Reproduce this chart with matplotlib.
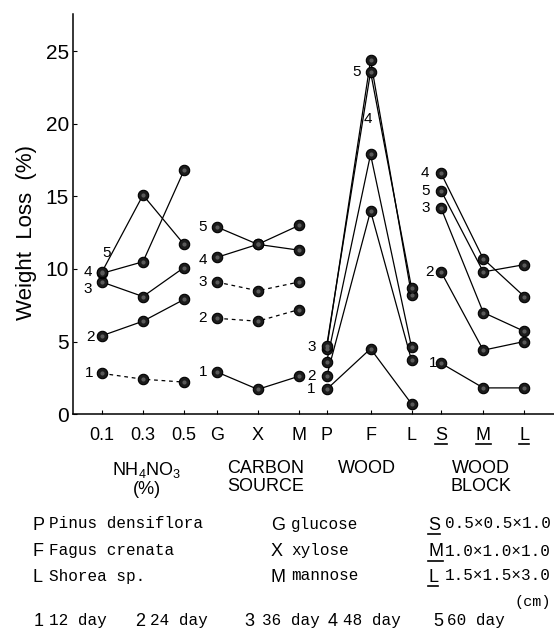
import matplotlib
matplotlib.use('Agg')
import matplotlib.pyplot as plt
from matplotlib import font_manager
from matplotlib.lines import Line2D

# x categories of the four groups
nh_cats = ['0.1', '0.3', '0.5']
carbon_cats = ['G', 'X', 'M']
wood_cats = ['P', 'F', 'L']
block_cats = ['S', 'M', 'L']
group_titles = ['NH$_\\mathregular{4}$NO$_\\mathregular{3}$\n(%)', 'CARBON\nSOURCE', 'WOOD', 'WOOD\nBLOCK']

days = ['1', '2', '3', '4', '5']

# weight loss (%), one row per period: 12, 24, 36, 48, 60 day
nh_loss = [[2.8, 2.4, 2.2],
           [5.4, 6.4, 7.9],
           [9.1, 8.1, 10.1],
           [9.7, 10.5, 16.8],
           [9.8, 15.1, 11.7]]
carbon_loss = [[2.9, 1.7, 2.6],
               [6.6, 6.4, 7.2],
               [9.1, 8.5, 9.1],
               [10.8, 11.7, 13.0],
               [12.9, 11.7, 11.3]]
wood_loss = [[1.7, 4.5, 0.7],
             [2.6, 14.0, 3.7],
             [3.6, 17.9, 4.6],
             [4.5, 24.4, 8.2],
             [4.7, 23.6, 8.7]]
block_loss = [[3.5, 1.8, 1.8],
              [9.8, 4.4, 5.0],
              [14.2, 7.0, 5.7],
              [16.6, 10.7, 8.1],
              [15.4, 9.8, 10.3]]

# legend texts
wood_names = ['Pinus densiflora', 'Fagus crenata', 'Shorea sp.']
sugar_names = ['glucose', 'xylose', 'mannose']
block_sizes = ['0.5×0.5×1.0', '1.0×1.0×1.0', '1.5×1.5×3.0']
day_names = ['12 day', '24 day', '36 day', '48 day', '60 day']

# ---- layout ----
W, H = 554, 629
nh_pos = [0, 1, 2]
carbon_pos = [2.8, 3.8, 4.8]
wood_pos = [5.48, 6.55, 7.55]
block_pos = [8.27, 9.3, 10.3]


def pick(name, fallback):
    try:
        font_manager.findfont(name, fallback_to_default=False)
        return name
    except Exception:
        return fallback


SANS = pick('Liberation Sans', 'DejaVu Sans')
NARROW = pick('Liberation Sans Narrow', SANS)
MONO = pick('Liberation Mono', 'DejaVu Sans Mono')
plt.rcParams['font.family'] = SANS
plt.rcParams['mathtext.fontset'] = 'custom'
plt.rcParams['mathtext.rm'] = SANS

fig = plt.figure(figsize=(W / 100, H / 100), dpi=100)
ax = fig.add_axes([73 / W, 1 - 414 / H, (W - 73) / W, 400 / H])


def fx(px):
    return px / W


def fy(py):
    return 1 - py / H


def draw_group(pos, loss, dashed, offsets):
    for i, vals in enumerate(loss):
        ls = (0, (3, 3)) if i in dashed else '-'
        ax.plot(pos, vals, linestyle=ls, color='black', lw=0.9, marker='o', ms=7.5,
                mfc='#1c1c1c', mec='black', mew=0.8, clip_on=False, zorder=3)
        ax.plot(pos, vals, 'o', ms=2, color='#5a5a5a', ls='none', clip_on=False, zorder=4)
        k, dx, dy = offsets[i]
        ax.annotate(days[i], xy=(pos[k], vals[k]), xytext=(dx, dy), textcoords='offset points',
                    ha='center', va='center', fontsize=11, family=SANS)


draw_group(nh_pos, nh_loss, [0],
           [(0, -9, 0), (0, -8, -1), (0, -10, -5), (0, -10, 1), (0, 3.5, 13.5)])
draw_group(carbon_pos, carbon_loss, [1, 2],
           [(0, -10, 0), (0, -10, 0), (0, -10, 0), (0, -10, -2), (0, -10, 0)])
draw_group(wood_pos, wood_loss, [],
           [(0, -11, 0), (0, -11, 0), (0, -11, 11), (1, -2, -42), (1, -10, 0)])
draw_group(block_pos, block_loss, [],
           [(0, -5.5, 0), (0, -8.5, 0), (0, -11, 0), (0, -11.5, 0), (0, -11.5, 0)])

ax.set_xlim((73 - 102) / 41, (W - 102) / 41)
ax.set_ylim(0, 400 / 14.5)
ax.set_yticks([0, 5, 10, 15, 20, 25])
ax.set_xticks(nh_pos + carbon_pos + wood_pos + block_pos)
ax.set_xticklabels(nh_cats + carbon_cats + wood_cats + block_cats)
for t in ax.get_xticklabels():
    t.set_fontfamily(NARROW)
    t.set_fontsize(13)
for t in ax.get_yticklabels():
    t.set_fontfamily(SANS)
    t.set_fontsize(15)
ax.tick_params(axis='x', direction='in', length=3, width=0.8, pad=9)
ax.tick_params(axis='y', direction='in', length=3, width=0.8, pad=3)
for s in ['top', 'right']:
    ax.spines[s].set_visible(False)
for s in ['left', 'bottom']:
    ax.spines[s].set_linewidth(1.1)
ax.patch.set_alpha(0)

fig.text(fx(27), fy(232), 'Weight  Loss  (%)', rotation=90, ha='center', va='center', fontsize=16)

# group titles under the axis
title_x = [147, 266, 367, 481]
for t, x in zip(group_titles, title_x):
    fig.text(fx(x), fy(460), t, ha='center', va='top', fontsize=13, linespacing=1.05)

# key
rows_y = [525, 552, 577]
underlined = []
for i in range(3):
    y = rows_y[i]
    fig.text(fx(32), fy(y), wood_cats[i], ha='left', va='center', fontsize=13)
    fig.text(fx(49), fy(y - 1), wood_names[i], ha='left', va='center', fontsize=11.5, family=MONO)
    fig.text(fx(271), fy(y), carbon_cats[i], ha='left', va='center', fontsize=13)
    fig.text(fx(291), fy(y - 1), sugar_names[i], ha='left', va='center', fontsize=11.5, family=MONO)
    underlined.append(fig.text(fx(428), fy(y), block_cats[i], ha='left', va='center', fontsize=13))
    fig.text(fx(445), fy(y - 1), block_sizes[i], ha='left', va='center', fontsize=11.5, family=MONO)
fig.text(fx(551), fy(602), '(cm)', ha='right', va='center', fontsize=11, family=MONO)

num_x = [34, 135, 244, 328, 433]
txt_x = [49, 150, 262, 343, 447]
for d, n, a, b in zip(days, day_names, num_x, txt_x):
    fig.text(fx(a), fy(621), d, ha='left', va='center', fontsize=13)
    fig.text(fx(b), fy(620), n, ha='left', va='center', fontsize=11.5, family=MONO)

# underline S, M, L (tick labels and key letters)
fig.canvas.draw()
renderer = fig.canvas.get_renderer()
inv = fig.transFigure.inverted()
for t in ax.get_xticklabels()[-3:] + underlined:
    bb = t.get_window_extent(renderer)
    (x0, y0), (x1, _) = inv.transform([(bb.x0, bb.y0), (bb.x1, bb.y1)])
    fig.add_artist(Line2D([x0, x1], [y0, y0], transform=fig.transFigure, color='black', lw=1.2))

fig.savefig('out.png', dpi=100)
